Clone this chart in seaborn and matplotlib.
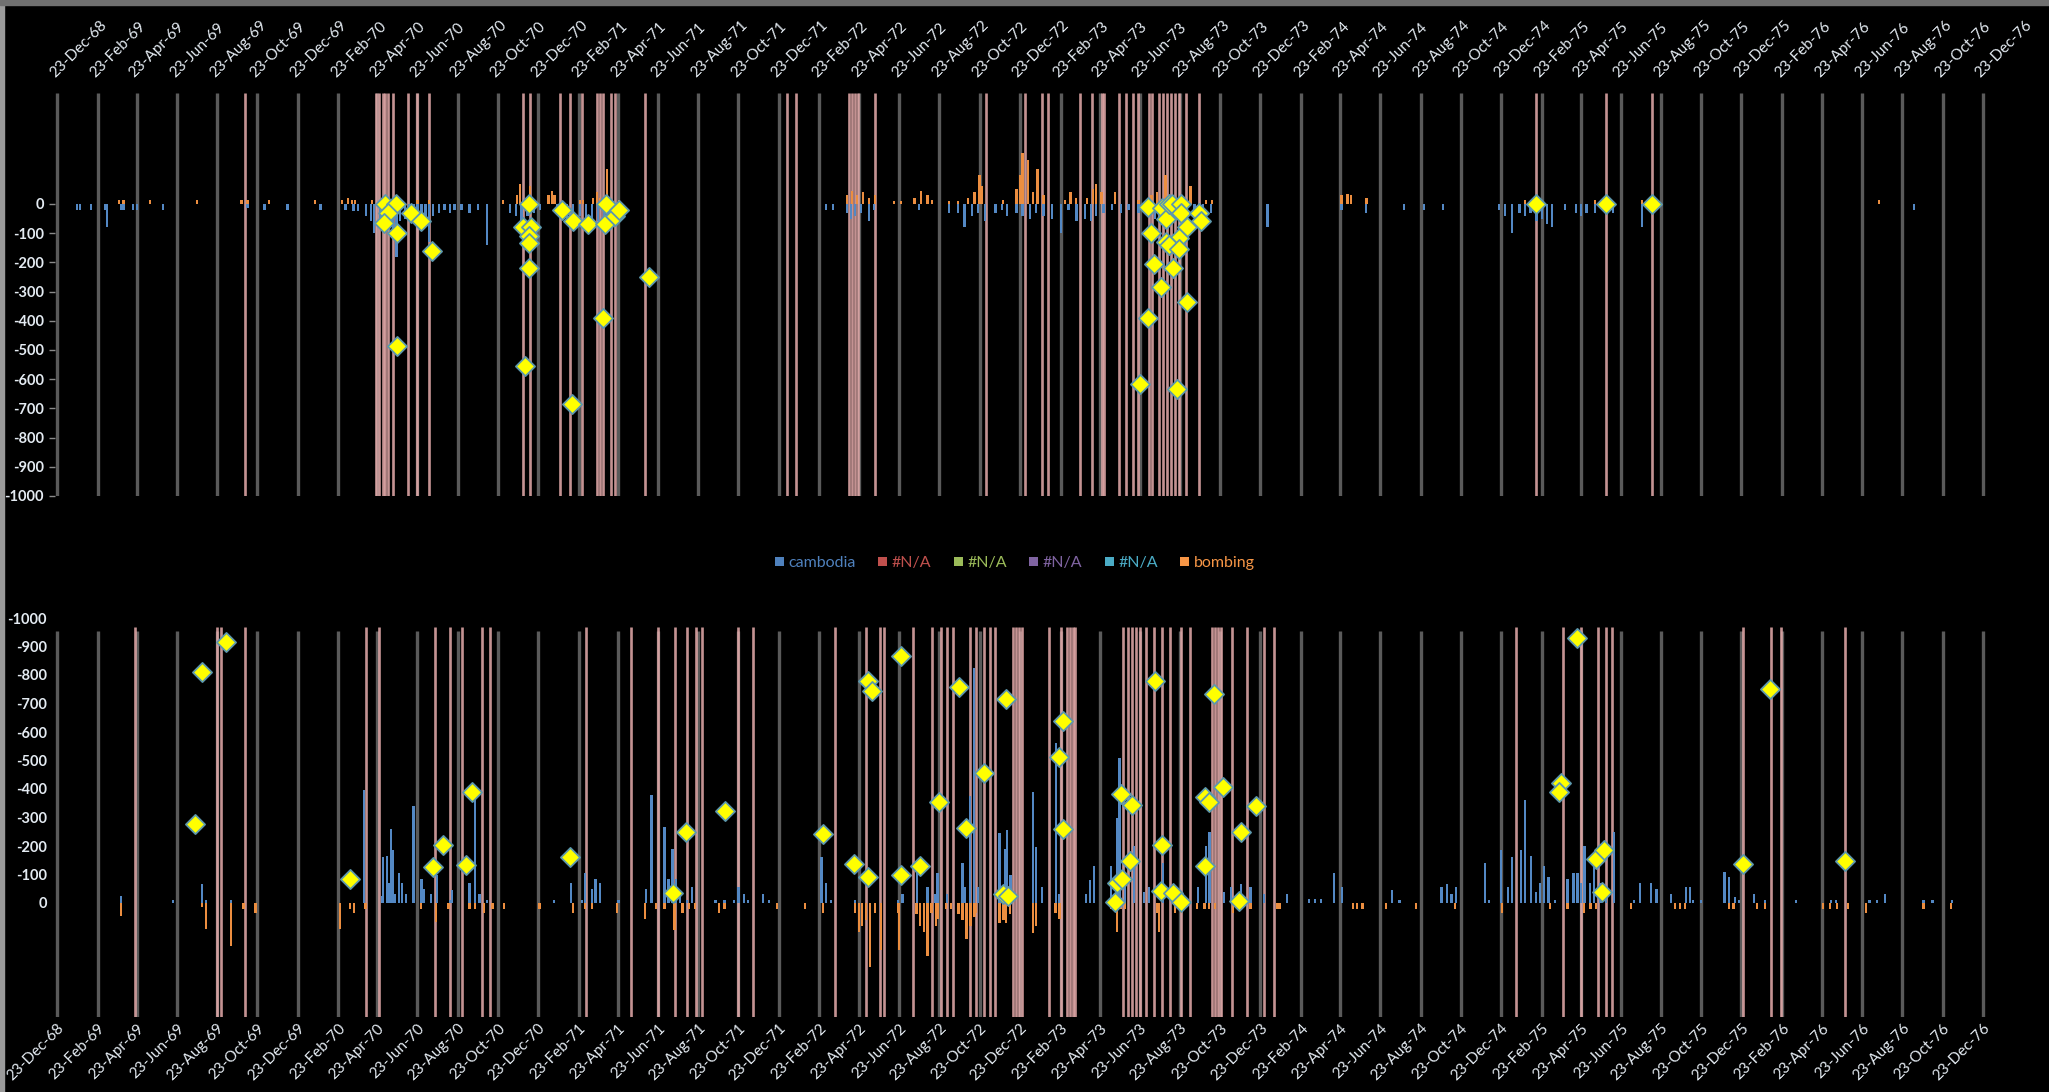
import pandas as pd
import matplotlib
matplotlib.use("Agg")
import matplotlib.pyplot as plt
import matplotlib.dates as mdates
from matplotlib.patches import Patch, Rectangle
import seaborn as sns

# ---------- data ----------
# upper panel: weekly bars (cambodia below zero, bombing above zero)
top_cambodia = [
    ("1969-01-22", -20), ("1969-01-27", -20), ("1969-02-13", -20), ("1969-03-06", -20),
    ("1969-03-09", -80), ("1969-03-30", -20), ("1969-04-03", -20), ("1969-04-17", -20),
    ("1969-04-23", -20), ("1969-06-02", -20), ("1969-10-08", -15), ("1969-11-03", -20),
    ("1969-12-08", -20), ("1970-01-27", -20), ("1970-03-06", -20), ("1970-03-18", -25),
    ("1970-03-25", -25), ("1970-04-06", -40), ("1970-04-14", -60), ("1970-04-18", -100),
    ("1970-04-28", -80), ("1970-05-04", -60), ("1970-05-11", -40), ("1970-05-17", -90),
    ("1970-05-22", -180), ("1970-05-28", -60), ("1970-06-04", -50), ("1970-06-11", -40),
    ("1970-06-17", -30), ("1970-06-23", -50), ("1970-06-29", -60), ("1970-07-05", -70),
    ("1970-07-11", -130), ("1970-07-17", -40), ("1970-07-26", -30), ("1970-08-03", -20),
    ("1970-08-11", -30), ("1970-08-18", -20), ("1970-08-29", -20), ("1970-09-10", -30),
    ("1970-09-23", -20), ("1970-10-06", -140), ("1970-11-10", -30), ("1970-11-19", -40),
    ("1970-11-28", -60), ("1970-12-07", -40), ("1970-12-17", -30), ("1970-12-26", -20),
    ("1971-01-21", -30), ("1971-01-28", -40), ("1971-02-05", -50), ("1971-02-14", -30),
    ("1971-02-25", -40), ("1971-03-06", -70), ("1971-03-15", -50), ("1971-03-24", -60),
    ("1971-04-02", -40), ("1971-04-11", -30), ("1971-04-22", -20), ("1972-03-04", -20),
    ("1972-03-15", -20), ("1972-04-05", -30), ("1972-04-11", -50), ("1972-04-17", -40),
    ("1972-04-26", -30), ("1972-05-08", -60), ("1972-05-16", -20), ("1972-07-23", -20),
    ("1972-09-07", -30), ("1972-09-20", -30), ("1972-09-30", -80), ("1972-10-11", -40),
    ("1972-10-20", -30), ("1972-10-31", -60), ("1972-11-16", -30), ("1972-11-26", -20),
    ("1972-12-03", -40), ("1972-12-18", -30), ("1972-12-27", -40), ("1973-01-07", -50),
    ("1973-01-16", -30), ("1973-01-28", -40), ("1973-02-10", -50), ("1973-02-23", -100),
    ("1973-03-07", -20), ("1973-03-19", -60), ("1973-04-01", -50), ("1973-04-10", -60),
    ("1973-04-18", -40), ("1973-04-29", -30), ("1973-05-12", -20), ("1973-05-26", -30),
    ("1973-06-06", -20), ("1973-06-21", -30), ("1973-07-04", -40), ("1973-07-16", -50),
    ("1973-07-28", -60), ("1973-08-09", -40), ("1973-08-21", -50), ("1973-09-02", -40),
    ("1973-09-14", -30), ("1973-09-27", -40), ("1973-10-09", -30), ("1974-01-03", -80),
    ("1974-04-25", -20), ("1974-06-01", -30), ("1974-07-29", -20), ("1974-08-28", -20),
    ("1974-09-26", -20), ("1974-12-20", -20), ("1974-12-29", -40), ("1975-01-09", -100),
    ("1975-01-20", -30), ("1975-01-29", -40), ("1975-02-06", -30), ("1975-02-15", -60),
    ("1975-02-23", -50), ("1975-03-03", -70), ("1975-03-10", -80), ("1975-03-30", -20),
    ("1975-04-16", -30), ("1975-04-23", -40), ("1975-05-02", -30), ("1975-05-15", -30),
    ("1975-06-11", -30), ("1975-07-25", -80), ("1976-09-10", -20),
]

top_bombing = [
    ("1969-03-27", 15), ("1969-04-03", 15), ("1969-05-13", 15), ("1969-07-23", 15),
    ("1969-09-29", 15), ("1969-10-08", 15), ("1969-11-10", 15), ("1970-01-19", 15),
    ("1970-03-01", 15), ("1970-03-10", 20), ("1970-03-16", 15), ("1970-03-20", 15),
    ("1970-04-15", 15), ("1970-06-23", 15), ("1970-07-11", 15), ("1970-10-31", 15),
    ("1970-11-21", 30), ("1970-11-26", 70), ("1970-12-11", 60), ("1971-01-08", 30),
    ("1971-01-13", 45), ("1971-01-17", 30), ("1971-02-25", 15), ("1971-03-01", 15),
    ("1971-03-16", 20), ("1971-03-22", 40), ("1971-03-27", 20), ("1971-04-07", 120),
    ("1971-04-25", 15), ("1972-04-05", 30), ("1972-04-12", 45), ("1972-04-20", 30),
    ("1972-04-29", 40), ("1972-05-08", 20), ("1972-05-17", 30), ("1972-06-15", 10),
    ("1972-06-26", 10), ("1972-07-16", 20), ("1972-07-26", 45), ("1972-08-05", 30),
    ("1972-08-12", 15), ("1972-09-07", 10), ("1972-09-20", 10), ("1972-10-05", 20),
    ("1972-10-15", 40), ("1972-10-23", 100), ("1972-10-27", 60), ("1972-11-27", 15),
    ("1972-12-18", 50), ("1972-12-23", 100), ("1972-12-27", 175), ("1973-01-04", 150),
    ("1973-01-12", 40), ("1973-01-19", 120), ("1973-01-28", 30), ("1973-03-01", 15),
    ("1973-03-10", 40), ("1973-03-18", 20), ("1973-04-04", 20), ("1973-04-13", 50),
    ("1973-04-18", 70), ("1973-04-26", 40), ("1973-05-16", 40), ("1973-06-21", 15),
    ("1973-07-11", 30), ("1973-07-19", 40), ("1973-08-01", 100), ("1973-09-08", 60),
    ("1973-10-01", 15), ("1973-10-11", 15), ("1974-04-25", 30), ("1974-05-04", 35),
    ("1974-05-10", 30), ("1974-06-02", 20), ("1975-01-29", 15), ("1975-05-15", 15),
    ("1975-07-25", 15), ("1976-07-19", 15),
]

top_events = [
    "1969-10-05", "1970-04-21", "1970-04-26", "1970-05-01", "1970-05-05", "1970-05-10",
    "1970-05-17", "1970-06-08", "1970-06-23", "1970-07-10", "1970-11-30", "1970-12-11",
    "1971-01-25", "1971-02-10", "1971-02-28", "1971-03-22", "1971-03-27", "1971-03-31",
    "1971-04-12", "1971-04-19", "1971-06-03", "1972-01-04", "1972-01-18", "1972-04-08",
    "1972-04-12", "1972-04-17", "1972-04-21", "1972-05-17", "1972-11-01", "1972-12-31",
    "1973-01-25", "1973-02-03", "1973-03-24", "1973-04-12", "1973-04-26", "1973-04-29",
    "1973-05-23", "1973-06-02", "1973-06-12", "1973-06-21", "1973-07-07", "1973-07-11",
    "1973-07-22", "1973-07-28", "1973-08-03", "1973-08-09", "1973-08-15", "1973-08-21",
    "1973-09-01", "1973-09-21", "1975-02-14", "1975-05-31", "1975-08-09",
]

top_points = [
    ("1970-05-04", 0), ("1970-05-22", 0), ("1970-05-10", -30), ("1970-05-03", -65),
    ("1970-05-23", -100), ("1970-06-13", -30), ("1970-06-28", -60), ("1970-07-15", -160),
    ("1970-05-23", -485), ("1970-12-09", 0), ("1970-11-30", -80), ("1970-12-12", -80),
    ("1970-12-09", -110), ("1970-12-09", -135), ("1970-12-09", -220), ("1970-12-03", -555),
    ("1971-01-28", -20), ("1971-02-14", -60), ("1971-03-08", -70), ("1971-04-05", 0),
    ("1971-04-04", -70), ("1971-04-18", -40), ("1971-04-25", -20), ("1971-04-01", -390),
    ("1971-06-09", -250), ("1971-02-12", -685), ("1973-07-05", -10), ("1973-07-27", -15),
    ("1973-08-02", -50), ("1973-08-07", 0), ("1973-08-11", 0), ("1973-08-25", 0),
    ("1973-08-25", -30), ("1973-09-03", -80), ("1973-07-10", -100), ("1973-08-21", -115),
    ("1973-08-02", -130), ("1973-08-07", -140), ("1973-08-21", -155), ("1973-07-14", -205),
    ("1973-08-12", -220), ("1973-07-25", -285), ("1973-09-03", -335), ("1973-07-05", -390),
    ("1973-06-23", -615), ("1973-08-19", -635), ("1973-09-21", -30), ("1973-09-24", -60),
    ("1975-02-14", 0), ("1975-05-31", 0), ("1975-08-09", 0),
]

# lower panel (inverted axis)
bottom_cambodia = [
    ("1969-03-30", -25), ("1969-06-17", -10), ("1969-07-31", -65), ("1969-08-06", -10),
    ("1969-09-13", -10), ("1970-04-03", -395), ("1970-05-01", -25), ("1970-05-02", -160),
    ("1970-05-08", -165), ("1970-05-11", -70), ("1970-05-14", -260), ("1970-05-17", -185),
    ("1970-05-20", -30), ("1970-05-26", -105), ("1970-05-31", -70), ("1970-06-06", -30),
    ("1970-06-17", -340), ("1970-06-29", -85), ("1970-07-02", -50), ("1970-07-13", -30),
    ("1970-07-23", -100), ("1970-08-11", -10), ("1970-08-14", -45), ("1970-09-10", -70),
    ("1970-09-18", -390), ("1970-09-25", -30), ("1970-10-06", -10), ("1971-01-16", -10),
    ("1971-02-11", -70), ("1971-02-28", -10), ("1971-03-04", -105), ("1971-03-15", -50),
    ("1971-03-20", -85), ("1971-03-27", -70), ("1971-04-24", -10), ("1971-06-05", -50),
    ("1971-06-13", -380), ("1971-07-03", -265), ("1971-07-09", -85), ("1971-07-15", -190),
    ("1971-07-20", -85), ("1971-07-26", -30), ("1971-08-06", -10), ("1971-08-14", -55),
    ("1971-09-18", -10), ("1971-10-02", -10), ("1971-10-16", -10), ("1971-10-23", -55),
    ("1971-10-31", -30), ("1971-11-07", -10), ("1971-11-29", -30), ("1971-12-08", -10),
    ("1972-02-26", -160), ("1972-03-04", -70), ("1972-03-11", -10), ("1972-04-17", -10),
    ("1972-06-21", -10), ("1972-06-28", -30), ("1972-07-20", -125), ("1972-08-05", -55),
    ("1972-08-17", -30), ("1972-08-20", -105), ("1972-09-04", -30), ("1972-09-27", -140),
    ("1972-10-01", -55), ("1972-10-08", -375), ("1972-10-14", -825), ("1972-10-21", -55),
    ("1972-11-22", -245), ("1972-11-28", -30), ("1972-11-30", -190), ("1972-12-03", -255),
    ("1972-12-09", -100), ("1973-01-12", -390), ("1973-01-17", -195), ("1973-01-26", -55),
    ("1973-02-16", -560), ("1973-02-20", -30), ("1973-04-02", -30), ("1973-04-08", -80),
    ("1973-04-15", -130), ("1973-05-10", -130), ("1973-05-19", -300), ("1973-05-23", -510),
    ("1973-06-01", -100), ("1973-06-14", -200), ("1973-06-29", -40), ("1973-07-07", -55),
    ("1973-07-28", -140), ("1973-09-19", -55), ("1973-10-01", -200), ("1973-10-07", -250),
    ("1973-10-29", -40), ("1973-11-08", -55), ("1973-11-17", -30), ("1973-11-24", -65),
    ("1973-12-08", -55), ("1973-12-29", -30), ("1974-02-01", -30), ("1974-03-07", -15),
    ("1974-03-16", -15), ("1974-03-25", -15), ("1974-04-14", -105), ("1974-04-26", -55),
    ("1974-07-11", -45), ("1974-07-22", -10), ("1974-09-24", -55), ("1974-10-02", -65),
    ("1974-10-09", -30), ("1974-10-16", -55), ("1974-11-29", -140), ("1974-12-05", -10),
    ("1974-12-23", -185), ("1975-01-03", -55), ("1975-01-09", -160), ("1975-01-22", -185),
    ("1975-01-29", -360), ("1975-02-07", -165), ("1975-02-14", -40), ("1975-02-20", -70),
    ("1975-02-26", -130), ("1975-03-05", -90), ("1975-03-15", -10), ("1975-04-03", -85),
    ("1975-04-12", -105), ("1975-04-18", -105), ("1975-04-23", -70), ("1975-04-29", -200),
    ("1975-05-07", -70), ("1975-05-13", -150), ("1975-05-23", -70), ("1975-05-31", -55),
    ("1975-06-13", -250), ("1975-07-13", -10), ("1975-07-22", -70), ("1975-08-08", -70),
    ("1975-08-16", -50), ("1975-09-07", -30), ("1975-09-30", -55), ("1975-10-06", -55),
    ("1975-10-10", -10), ("1975-10-23", -10), ("1975-11-27", -110), ("1975-12-04", -90),
    ("1975-12-13", -20), ("1975-12-19", -10), ("1976-01-11", -30), ("1976-01-28", -10),
    ("1976-03-15", -10), ("1976-05-07", -10), ("1976-05-14", -10), ("1976-07-04", -10),
    ("1976-07-16", -10), ("1976-07-28", -30), ("1976-09-24", -10), ("1976-10-08", -10),
    ("1976-11-06", -10),
]

bottom_bombing = [
    ("1969-03-30", 45), ("1969-07-31", 15), ("1969-08-06", 90), ("1969-09-13", 150),
    ("1969-10-02", 20), ("1969-10-20", 35), ("1970-02-25", 90), ("1970-03-13", 20),
    ("1970-03-19", 35), ("1970-04-05", 20), ("1970-06-28", 20), ("1970-07-21", 65),
    ("1970-08-09", 20), ("1970-09-10", 20), ("1970-09-18", 20), ("1970-10-02", 35),
    ("1970-10-15", 20), ("1970-11-01", 20), ("1970-12-25", 20), ("1971-02-14", 35),
    ("1971-03-04", 20), ("1971-03-15", 20), ("1971-04-22", 35), ("1971-06-03", 55),
    ("1971-06-20", 20), ("1971-07-03", 20), ("1971-07-18", 95), ("1971-07-30", 35),
    ("1971-08-09", 20), ("1971-08-18", 20), ("1971-09-23", 35), ("1971-10-02", 20),
    ("1971-12-20", 20), ("1972-02-01", 20), ("1972-02-28", 35), ("1972-04-17", 35),
    ("1972-04-23", 100), ("1972-04-28", 80), ("1972-05-04", 60), ("1972-05-10", 225),
    ("1972-05-17", 35), ("1972-05-26", 165), ("1972-06-21", 35), ("1972-06-23", 165),
    ("1972-07-19", 40), ("1972-07-25", 80), ("1972-07-31", 100), ("1972-08-05", 185),
    ("1972-08-11", 35), ("1972-08-18", 80), ("1972-08-21", 55), ("1972-09-02", 20),
    ("1972-09-10", 20), ("1972-09-21", 40), ("1972-09-27", 60), ("1972-10-03", 125),
    ("1972-10-09", 80), ("1972-10-15", 50), ("1972-10-18", 35), ("1972-11-22", 70),
    ("1972-11-28", 60), ("1972-12-02", 70), ("1972-12-08", 40), ("1973-01-12", 105),
    ("1973-01-17", 80), ("1973-02-15", 35), ("1973-02-21", 55), ("1973-05-10", 20),
    ("1973-05-19", 100), ("1973-05-26", 20), ("1973-06-01", 20), ("1973-07-19", 35),
    ("1973-07-22", 100), ("1973-08-15", 35), ("1973-08-25", 35), ("1973-09-18", 20),
    ("1973-09-29", 20), ("1973-10-06", 20), ("1973-10-15", 20), ("1973-11-11", 35),
    ("1973-12-08", 20), ("1974-01-18", 20), ("1974-01-21", 20), ("1974-05-13", 20),
    ("1974-05-19", 20), ("1974-05-27", 20), ("1974-07-02", 20), ("1974-08-16", 20),
    ("1974-10-14", 20), ("1974-12-25", 35), ("1975-03-07", 20), ("1975-04-03", 20),
    ("1975-04-28", 35), ("1975-05-08", 20), ("1975-05-16", 20), ("1975-07-08", 20),
    ("1975-09-13", 20), ("1975-09-21", 20), ("1975-09-28", 20), ("1975-12-04", 20),
    ("1975-12-11", 20), ("1976-01-16", 20), ("1976-01-28", 20), ("1976-04-25", 20),
    ("1976-05-05", 20), ("1976-05-16", 20), ("1976-06-02", 20), ("1976-06-29", 35),
    ("1976-09-24", 20), ("1976-11-05", 20),
]

bottom_events = [
    "1969-04-20", "1969-08-23", "1969-08-29", "1969-10-05", "1970-04-06", "1970-04-25",
    "1970-07-19", "1970-08-12", "1970-08-29", "1970-09-29", "1970-10-11", "1971-03-06",
    "1971-05-13", "1971-06-23", "1971-07-19", "1971-08-06", "1971-08-20", "1971-08-28",
    "1971-10-23", "1971-11-14", "1972-03-18", "1972-05-04", "1972-05-25", "1972-05-31",
    "1972-07-14", "1972-08-11", "1972-08-25", "1972-09-04", "1972-09-12", "1972-10-08",
    "1972-10-18", "1972-10-29", "1972-11-07", "1972-11-15", "1972-12-12", "1972-12-17",
    "1972-12-21", "1972-12-26", "1973-02-05", "1973-02-23", "1973-03-04", "1973-03-09",
    "1973-03-13", "1973-03-16", "1973-05-28", "1973-06-05", "1973-06-11", "1973-06-18",
    "1973-06-24", "1973-07-02", "1973-07-14", "1973-07-27", "1973-08-08", "1973-08-25",
    "1973-09-07", "1973-10-11", "1973-10-15", "1973-10-20", "1973-10-24", "1973-11-10",
    "1973-12-03", "1973-12-29", "1974-01-12", "1975-01-15", "1975-03-27", "1975-04-23",
    "1975-05-20", "1975-05-31", "1975-06-09", "1975-12-25", "1976-02-06", "1976-02-21",
    "1976-05-28",
]

bottom_points = [
    ("1969-07-21", -277), ("1969-07-31", -810), ("1969-09-05", -915), ("1970-03-13", -85),
    ("1970-07-17", -125), ("1970-08-01", -205), ("1970-09-04", -135), ("1970-09-13", -390),
    ("1971-02-09", -160), ("1971-07-15", -35), ("1971-08-05", -250), ("1971-10-03", -322),
    ("1972-02-28", -243), ("1972-04-15", -137), ("1972-05-07", -92), ("1972-05-07", -780),
    ("1972-05-12", -745), ("1972-06-26", -867), ("1972-06-26", -98), ("1972-07-25", -130),
    ("1972-08-23", -355), ("1972-09-21", -757), ("1972-10-03", -263), ("1972-10-29", -455),
    ("1972-12-02", -715), ("1972-11-28", -30), ("1972-12-05", -25), ("1973-02-21", -512),
    ("1973-02-26", -640), ("1973-02-27", -260), ("1973-05-16", -5), ("1973-05-19", -70),
    ("1973-05-27", -85), ("1973-05-26", -383), ("1973-06-11", -343), ("1973-06-08", -147),
    ("1973-07-16", -780), ("1973-07-27", -205), ("1973-07-25", -42), ("1973-08-12", -35),
    ("1973-08-25", -5), ("1973-09-30", -372), ("1973-10-06", -355), ("1973-09-30", -130),
    ("1973-10-14", -733), ("1973-10-28", -407), ("1973-11-24", -250), ("1973-11-20", -7),
    ("1973-12-17", -340), ("1975-04-17", -930), ("1975-03-24", -422), ("1975-03-21", -390),
    ("1975-05-16", -155), ("1975-05-28", -186), ("1975-05-25", -40), ("1975-12-25", -137),
    ("1976-02-05", -750), ("1976-05-28", -147),
]

legend_labels = ["cambodia", "#N/A", "#N/A", "#N/A", "#N/A", "bombing"]
legend_colors = ["#4F81BD", "#C0504D", "#9BBB59", "#8064A2", "#4BACC6", "#F79646"]

y_ticks = list(range(-1000, 1, 100))
tick_dates = pd.date_range("1968-12-23", periods=49, freq=pd.DateOffset(months=2))

# ---------- style ----------
sns.set_theme(style="dark")
plt.rcParams["font.family"] = ["Lato", "DejaVu Sans"]
plt.rcParams["axes.unicode_minus"] = False

TXT = "#e4ebf2"
GRID = "#5a5a5a"
PINK = "#e8adad"
CAMB = "#5388c4"
BOMB = "#ec8e40"


def num(dates):
    return mdates.date2num(pd.to_datetime(dates))


def frame(pairs):
    df = pd.DataFrame(pairs, columns=["date", "value"])
    df["x"] = num(df["date"])
    return df


W, H = 2049, 1092
fig = plt.figure(figsize=(W / 100, H / 100), dpi=100, facecolor="black")

x0 = num(["1968-12-20"])[0]
x1 = num(["1976-12-28"])[0]
left, width = 55 / W, 1931 / W
ax_top = fig.add_axes([left, 1 - 496 / H, width, 403 / H])
ax_bot = fig.add_axes([left, 1 - 1017 / H, width, 399 / H])

ticks = num(tick_dates)
tick_text = [d.strftime("%d-%b-%y") for d in tick_dates]

panels = [
    (ax_top, top_cambodia, top_bombing, top_events, top_points, (-1000, 380), (-1000, 380)),
    (ax_bot, bottom_cambodia, bottom_bombing, bottom_events, bottom_points, (-955, 400), (-970, 400)),
]

for ax, camb, bomb, events, pts, grid_span, ev_span in panels:
    ax.set_facecolor("black")
    for s in ax.spines.values():
        s.set_visible(False)
    ax.grid(False)
    ax.vlines(ticks, grid_span[0], grid_span[1], color=GRID, lw=2.4, zorder=1)
    ax.vlines(num(events), ev_span[0], ev_span[1], color=PINK, lw=1.9, alpha=0.85, zorder=2)
    c = frame(camb)
    b = frame(bomb)
    ax.bar(c["x"], c["value"], width=3.5, color=CAMB, linewidth=0, zorder=3)
    ax.bar(b["x"], b["value"], width=3.5, color=BOMB, linewidth=0, zorder=3)
    p = frame(pts)
    sns.scatterplot(data=p, x="x", y="value", ax=ax, marker="D", s=95,
                    color="#FFFF00", edgecolor="#5d98ad", linewidth=1.3,
                    zorder=5, legend=False)
    ax.set_xlim(x0, x1)
    ax.set_xticks(ticks)
    ax.set_yticks(y_ticks)
    ax.set_yticklabels([str(v) for v in y_ticks], color=TXT, fontsize=10.5,
                       fontweight="bold")
    ax.set_xlabel("")
    ax.set_ylabel("")

# upper panel
ax_top.set_ylim(-1000, 380)
ax_top.xaxis.tick_top()
ax_top.set_xticklabels(tick_text, rotation=45, ha="left", va="bottom",
                       rotation_mode="anchor", color=TXT, fontsize=11)
ax_top.tick_params(axis="x", length=0, pad=9)
ax_top.tick_params(axis="y", length=4, width=1, color="#8a8a8a", pad=4, left=True)

# lower panel (inverted)
ax_bot.set_ylim(400, -1000)
ax_bot.set_xticklabels(tick_text, rotation=45, ha="right", va="top",
                       rotation_mode="anchor", color=TXT, fontsize=11)
ax_bot.tick_params(axis="x", length=0, pad=3)
ax_bot.tick_params(axis="y", length=0, pad=6)

# legend
handles = [Patch(facecolor=c, edgecolor="none", label=l) for l, c in zip(legend_labels, legend_colors)]
fig.legend(handles=handles, loc="center", bbox_to_anchor=(1015 / W, 1 - 563 / H),
           ncol=6, frameon=False, fontsize=11.5, labelcolor=legend_colors,
           handlelength=0.55, handleheight=0.55, handletextpad=0.3, columnspacing=1.4)

# grey window frame on the left and top edges
fig.patches.append(Rectangle((0, 0), 4 / W, 1, transform=fig.transFigure,
                             color="#9a9a9a", zorder=10))
fig.patches.append(Rectangle((0, 1 - 5 / H), 1, 5 / H, transform=fig.transFigure,
                             color="#707070", zorder=10))

fig.savefig("out.png", dpi=100, facecolor="black")
